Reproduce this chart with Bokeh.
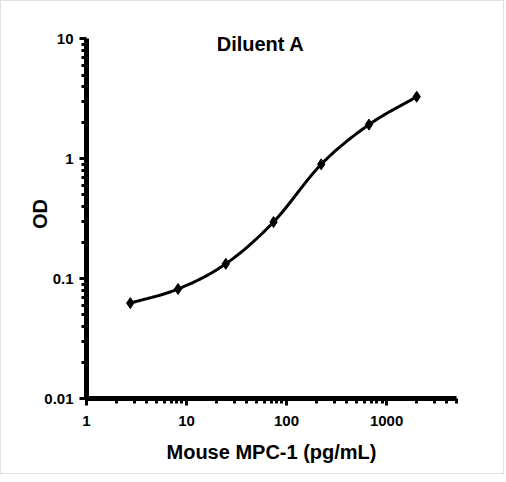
import numpy as np
from bokeh.plotting import figure
from bokeh.models import Label, FixedTicker, CustomJSTickFormatter
from bokeh.embed import file_html
from bokeh.resources import INLINE

# data
conc = [2.74, 8.23, 24.7, 74.1, 222.0, 667.0, 2000.0]
od = [0.0625, 0.082, 0.133, 0.297, 0.90, 1.93, 3.30]
title_text = "Diluent A"
x_label = "Mouse MPC-1 (pg/mL)"
y_label = "OD"
x_major = [1, 10, 100, 1000]
y_major = [0.01, 0.1, 1, 10]

FONT = "Liberation Sans"

p = figure(width=504, height=474, x_axis_type="log", y_axis_type="log",
           x_range=(1, 5000), y_range=(0.01, 12.0),
           output_backend="svg", toolbar_location=None,
           min_border_left=85, min_border_right=49,
           min_border_top=28, min_border_bottom=77)
p.outline_line_color = None
p.xgrid.visible = False
p.ygrid.visible = False
p.styles = {"border": "1px solid #e2e2e2"}

# smooth curve (Catmull-Rom in log space) through data points
lx = np.log10(conc)
ly = np.log10(od)
n = len(lx)
px = np.concatenate([[2 * lx[0] - lx[1]], lx, [2 * lx[-1] - lx[-2]]])
py = np.concatenate([[2 * ly[0] - ly[1]], ly, [2 * ly[-1] - ly[-2]]])
cx, cy = [], []
for i in range(1, n):
    p0, p1, p2, p3 = (np.array([px[j], py[j]]) for j in (i - 1, i, i + 1, i + 2))
    for t in np.linspace(0, 1, 20, endpoint=(i == n - 1)):
        pt = 0.5 * ((2 * p1) + (-p0 + p2) * t + (2 * p0 - 5 * p1 + 4 * p2 - p3) * t ** 2
                    + (-p0 + 3 * p1 - 3 * p2 + p3) * t ** 3)
        cx.append(10 ** pt[0])
        cy.append(10 ** pt[1])

p.line(cx, cy, line_color="black", line_width=3)
p.scatter(conc, od, marker="diamond", size=11, color="black")

def minors(lo, hi):
    return [k * 10 ** d for d in range(lo, hi) for k in range(2, 10)]

fmt = CustomJSTickFormatter(code="return String(Number(tick.toPrecision(6)));")

xa = p.xaxis[0]
xa.ticker = FixedTicker(ticks=x_major, minor_ticks=[v for v in minors(0, 4) if v <= 5000])
xa.bounds = (1, 5000)
ya = p.yaxis[0]
ya.ticker = FixedTicker(ticks=y_major, minor_ticks=minors(-2, 1))
ya.bounds = (0.01, 10)

for ax in (xa, ya):
    ax.formatter = fmt
    ax.axis_line_width = 5
    ax.axis_line_color = "black"
    ax.major_tick_line_color = "black"
    ax.minor_tick_line_color = "black"
    ax.major_tick_line_width = 3
    ax.minor_tick_line_width = 3
    ax.major_tick_in = 0
    ax.major_tick_out = 7
    ax.minor_tick_in = 0
    ax.minor_tick_out = 5
    ax.major_label_text_font = FONT
    ax.major_label_text_font_style = "bold"
    ax.major_label_text_font_size = "15px"
    ax.major_label_text_color = "black"
    ax.axis_label_text_font = FONT
    ax.axis_label_text_font_style = "bold"
    ax.axis_label_text_font_size = "20px"
    ax.axis_label_text_color = "black"

xa.axis_label = x_label
xa.major_label_standoff = 10
xa.axis_label_standoff = 12
ya.axis_label = y_label
ya.major_label_standoff = 6
ya.axis_label_standoff = -10

p.add_layout(Label(x=55, y=9.0, text=title_text, text_align="center",
                   text_baseline="middle", text_font=FONT,
                   text_font_style="bold", text_font_size="20px",
                   text_color="black"))

open("out.html", "w").write(file_html(p, INLINE))
